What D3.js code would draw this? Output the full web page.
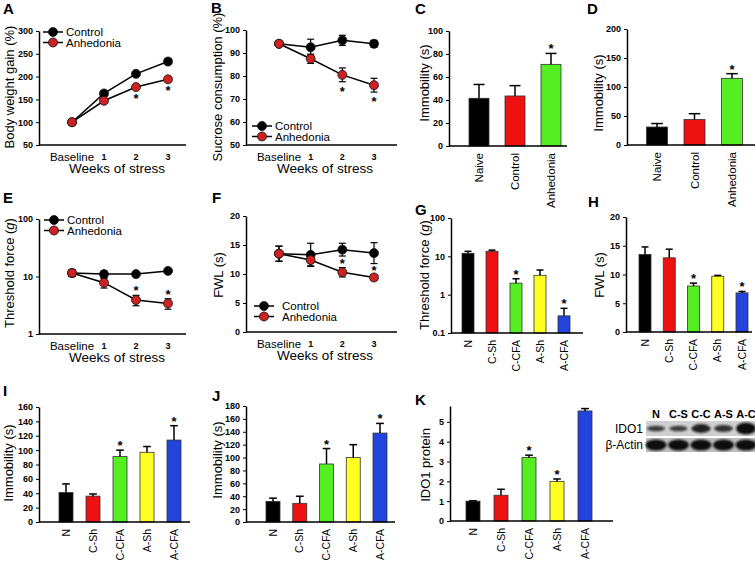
<!DOCTYPE html>
<html><head><meta charset="utf-8">
<script src="https://cdn.jsdelivr.net/npm/d3@7"></script>
<style>body{margin:0;background:#fff}svg{display:block}</style>
</head><body>
<script>
// ---------------- DATA ----------------
const weeks = ["Baseline", "1", "2", "3"];
const bwControl = [100, 163, 206, 233];
const bwControlErr = [3, 5, 4, 5];
const bwAnhedonia = [100, 147, 177, 194];
const bwAnhedoniaErr = [3, 4, 4, 4];
const bwStars = [2, 3];

const sucControl = [94, 92.5, 95.5, 94];
const sucControlErr = [0.5, 3.5, 2.2, 1.5];
const sucAnhedonia = [94, 87.5, 80.5, 76];
const sucAnhedoniaErr = [0.5, 2, 3, 3];
const sucStars = [2, 3];

const groups3 = ["Naive", "Control", "Anhedonia"];
const immC = [41.5, 43.5, 71];
const immCErr = [12, 9, 9.5];
const immCStars = [2];
const immD = [31, 44, 115];
const immDErr = [6, 10, 8];
const immDStars = [2];

const thrControl = [11.5, 11, 11, 12.5];
const thrControlErr = [1.5, 1.5, 1, 1];
const thrAnhedonia = [11.5, 7.8, 3.9, 3.4];
const thrAnhedoniaErr = [1.5, 1.5, 0.8, 0.7];
const thrStars = [2, 3];

const fwlControl = [13.5, 13.3, 14.2, 13.6];
const fwlControlErr = [1.3, 2, 1.1, 1.8];
const fwlAnhedonia = [13.5, 12.4, 10.3, 9.4];
const fwlAnhedoniaErr = [1.3, 1, 0.8, 0.5];
const fwlStars = [2, 3];

const groups5 = ["N", "C-Sh", "C-CFA", "A-Sh", "A-CFA"];
const thrG = [12, 13.5, 2, 3.2, 0.28];
const thrGErr = [1.5, 1, 0.6, 1.2, 0.16];
const thrGStars = [2, 4];
const fwlH = [13.5, 12.9, 8, 9.7, 6.8];
const fwlHErr = [1.3, 1.5, 0.5, 0.15, 0.25];
const fwlHStars = [2, 4];
const immI = [41, 36, 91, 97, 114];
const immIErr = [12, 3, 9, 8, 20];
const immIStars = [2, 4];
const immJ = [32, 29, 90, 100, 138];
const immJErr = [5, 11, 24, 20, 15];
const immJStars = [2, 4];
const ido1K = [1.0, 1.3, 3.2, 2.0, 5.55];
const ido1KErr = [0.02, 0.3, 0.12, 0.12, 0.12];
const ido1KStars = [2, 3];

const blotLanes = ["N", "C-S", "C-C", "A-S", "A-C"];
const blotIDO1 = [0.55, 0.55, 0.8, 0.65, 1.0];
const blotActin = [1, 1, 1, 1, 1];

const groupColors = ["#000000", "#ee1111", "#55ee22", "#ffff22", "#2244dd"];
const seriesColors = {control: "#000000", anhedonia: "#cc2222"};

// ---------------- DRAW ----------------
const FONT = "'Liberation Sans', Arial, Helvetica, sans-serif";
const svg = d3.select("body").append("svg").attr("width", 755).attr("height", 563)
  .attr("font-family", FONT);

const defs = svg.append("defs");
defs.append("filter").attr("id", "blur").append("feGaussianBlur").attr("stdDeviation", 1.3);

function panelLetter(t, x, y) {
  svg.append("text").attr("x", x).attr("y", y).attr("font-size", 15).attr("font-weight", "bold").text(t);
}

function yTitle(g, x, yc, parts) {
  const t = g.append("text").attr("transform", `translate(${x},${yc}) rotate(-90)`)
    .attr("text-anchor", "middle").attr("dy", "0.35em").attr("font-size", 13);
  parts.forEach(p => t.append("tspan").attr("font-style", p[1] ? "italic" : null).text(p[0]));
}

function drawYAxis(g, y, ax, ticks, fmt) {
  const a = g.append("g").attr("transform", `translate(${ax},0)`)
    .call(d3.axisLeft(y).tickValues(ticks).tickFormat(fmt || d3.format("")).tickSize(3).tickSizeOuter(0).tickPadding(3));
  a.attr("font-size", 9).attr("font-weight", "bold").attr("font-family", FONT);
  a.select(".domain").attr("stroke-width", 1.5);
  a.selectAll(".tick line").attr("stroke-width", 1);
  a.selectAll("text").attr("fill", "#000");
  return a;
}

function star(g, x, yc) {
  g.append("text").attr("x", x).attr("y", yc + 7).attr("text-anchor", "middle")
    .attr("font-size", 13).attr("font-weight", "bold").text("*");
}

function linePanel(o) {
  const g = svg.append("g");
  const x = d3.scalePoint().domain(weeks).range(o.xr);
  const y = o.y;
  drawYAxis(g, y, o.ax, o.ticks);
  const yb = y.range()[0];
  g.append("line").attr("x1", o.ax).attr("x2", o.axEnd).attr("y1", yb).attr("y2", yb)
    .attr("stroke", "#000").attr("stroke-width", 1.5);
  weeks.forEach(w => {
    const isB = w === "Baseline";
    g.append("text").attr("x", x(w)).attr("y", yb + (isB ? 16 : 15)).attr("text-anchor", "middle")
      .attr("font-size", isB ? 11.5 : 9).attr("font-weight", isB ? null : "bold").text(w);
  });
  g.append("text").attr("x", o.titleX).attr("y", yb + 28).attr("text-anchor", "middle")
    .attr("font-size", 13.5).text("Weeks of stress");
  yTitle(g, o.ytx, o.yty, o.ytitle);

  const series = [
    {v: o.control, e: o.controlErr, c: seriesColors.control},
    {v: o.anhed, e: o.anhedErr, c: seriesColors.anhedonia}
  ];
  const line = d3.line().x((d, i) => x(weeks[i])).y(d => y(d));
  series.forEach(s => {
    g.append("path").attr("d", line(s.v)).attr("fill", "none").attr("stroke", "#000").attr("stroke-width", 1.5);
  });
  series.forEach(s => {
    s.v.forEach((v, i) => {
      const cx = x(weeks[i]);
      const y1 = y(v + s.e[i]), y2 = y(Math.max(v - s.e[i], y.domain()[0]));
      g.append("line").attr("x1", cx).attr("x2", cx).attr("y1", y1).attr("y2", y2).attr("stroke", "#000").attr("stroke-width", 1.2);
      [y1, y2].forEach(yy => g.append("line").attr("x1", cx - 3.5).attr("x2", cx + 3.5).attr("y1", yy).attr("y2", yy).attr("stroke", "#000").attr("stroke-width", 1.2));
    });
    g.selectAll(null).data(s.v).enter().append("circle")
      .attr("cx", (d, i) => x(weeks[i])).attr("cy", d => y(d)).attr("r", 4.5)
      .attr("fill", s.c).attr("stroke", "#111").attr("stroke-width", 0.8);
  });
  o.stars.forEach(i => {
    if (o.starBelow) star(g, x(weeks[i]), y(o.anhed[i] - o.anhedErr[i]) + 7);
    else star(g, x(weeks[i]), y(o.anhed[i] + o.anhedErr[i]) - 7);
  });
  // legend
  [["Control", seriesColors.control], ["Anhedonia", seriesColors.anhedonia]].forEach((d, i) => {
    const ly = o.leg[1] + i * 10.5;
    g.append("line").attr("x1", o.leg[0]).attr("x2", o.leg[0] + 20).attr("y1", ly).attr("y2", ly).attr("stroke", "#000").attr("stroke-width", 1.5);
    g.append("circle").attr("cx", o.leg[0] + 10).attr("cy", ly).attr("r", 4.5).attr("fill", d[1]).attr("stroke", "#111").attr("stroke-width", 0.8);
    g.append("text").attr("x", o.leg[0] + 23 + (o.legGap || 0)).attr("y", ly).attr("dy", "0.35em").attr("font-size", 11.5).text(d[0]);
  });
}

function barPanel(o) {
  const g = svg.append("g");
  const x = d3.scalePoint().domain(o.groups).range(o.xr);
  const y = o.y;
  drawYAxis(g, y, o.ax, o.ticks, o.fmt);
  const yb = y.range()[0];
  const bw = o.bw;
  g.selectAll(null).data(o.vals).enter().append("rect")
    .attr("x", (d, i) => x(o.groups[i]) - bw / 2).attr("width", bw)
    .attr("y", d => y(d)).attr("height", d => yb - y(d))
    .attr("fill", (d, i) => groupColors[i]).attr("stroke", "#333").attr("stroke-width", 0.8);
  o.vals.forEach((v, i) => {
    const cx = x(o.groups[i]);
    const yt = y(v + o.errs[i]);
    const cw = Math.max(bw * 0.55, 7);
    g.append("line").attr("x1", cx).attr("x2", cx).attr("y1", y(v)).attr("y2", yt).attr("stroke", "#000").attr("stroke-width", 1.5);
    g.append("line").attr("x1", cx - cw / 2).attr("x2", cx + cw / 2).attr("y1", yt).attr("y2", yt).attr("stroke", "#000").attr("stroke-width", 1.5);
  });
  g.append("line").attr("x1", o.ax).attr("x2", o.axEnd).attr("y1", yb).attr("y2", yb)
    .attr("stroke", "#000").attr("stroke-width", 1.5);
  o.groups.forEach(gr => {
    g.append("text").attr("transform", `translate(${x(gr)},${yb + 7}) rotate(-90)`)
      .attr("text-anchor", "end").attr("dy", "0.35em").attr("font-size", o.labSize || 10.5).text(gr);
  });
  o.stars.forEach(i => star(g, x(o.groups[i]), y(o.vals[i] + o.errs[i]) - 7));
  yTitle(g, o.ytx, o.yty, o.ytitle);
}

// A
panelLetter("A", 3, 14);
linePanel({xr: [72, 168], ax: 39, axEnd: 186, y: d3.scaleLinear().domain([50, 300]).range([145, 31]),
  ticks: [50, 100, 150, 200, 250, 300], control: bwControl, controlErr: bwControlErr,
  anhed: bwAnhedonia, anhedErr: bwAnhedoniaErr, stars: bwStars, starBelow: true,
  titleX: 117, ytx: 9, yty: 87, ytitle: [["Body weight gain (%)"]], leg: [43, 32]});
// B
panelLetter("B", 211, 13);
linePanel({xr: [279, 374], ax: 246, axEnd: 397, y: d3.scaleLinear().domain([50, 100]).range([145, 30]),
  ticks: [50, 60, 70, 80, 90, 100], control: sucControl, controlErr: sucControlErr,
  anhed: sucAnhedonia, anhedErr: sucAnhedoniaErr, stars: sucStars, starBelow: true,
  titleX: 325, ytx: 217, yty: 87, ytitle: [["Sucrose consumption (%)"]], leg: [252, 126]});
// C
panelLetter("C", 415, 14);
barPanel({groups: groups3, xr: [479, 551], bw: 20, ax: 449, axEnd: 567,
  y: d3.scaleLinear().domain([0, 100]).range([146, 31]), ticks: [0, 20, 40, 60, 80, 100],
  vals: immC, errs: immCErr, stars: immCStars, labSize: 11.5, ytx: 424, yty: 83, ytitle: [["Immobility (s)"]]});
// D
panelLetter("D", 587, 14);
barPanel({groups: groups3, xr: [657, 732], bw: 21, ax: 627, axEnd: 755,
  y: d3.scaleLinear().domain([0, 200]).range([145, 29]), ticks: [0, 50, 100, 150, 200],
  vals: immD, errs: immDErr, stars: immDStars, labSize: 11.5, ytx: 598, yty: 93, ytitle: [["Immobility (s)"]]});
// E
panelLetter("E", 3, 203);
linePanel({xr: [72, 168], ax: 39, axEnd: 186, y: d3.scaleLog().domain([1, 100]).range([334, 219]),
  ticks: [1, 10, 100], control: thrControl, controlErr: thrControlErr,
  anhed: thrAnhedonia, anhedErr: thrAnhedoniaErr, stars: thrStars, starBelow: false,
  titleX: 117, ytx: 9, yty: 273, ytitle: [["Threshold force ("], ["g", true], [")"]], leg: [44, 220]});
// F
panelLetter("F", 212, 203);
linePanel({xr: [279, 374], ax: 246, axEnd: 397, y: d3.scaleLinear().domain([0, 20]).range([332, 216]),
  ticks: [0, 5, 10, 15, 20], control: fwlControl, controlErr: fwlControlErr,
  anhed: fwlAnhedonia, anhedErr: fwlAnhedoniaErr, stars: fwlStars, starBelow: false,
  titleX: 325, ytx: 218, yty: 275, ytitle: [["FWL (s)"]], leg: [254, 306], legGap: 5});
// G
panelLetter("G", 415, 215);
barPanel({groups: groups5, xr: [468, 564], bw: 12, ax: 451, axEnd: 583,
  y: d3.scaleLog().domain([0.1, 100]).range([333, 218]), ticks: [0.1, 1, 10, 100],
  vals: thrG, errs: thrGErr, stars: thrGStars, ytx: 424, yty: 275, ytitle: [["Threshold force ("], ["g", true], [")"]]});
// H
panelLetter("H", 588, 207);
barPanel({groups: groups5, xr: [645, 742], bw: 12, ax: 626, axEnd: 752,
  y: d3.scaleLinear().domain([0, 20]).range([332, 217]), ticks: [0, 5, 10, 15, 20],
  vals: fwlH, errs: fwlHErr, stars: fwlHStars, ytx: 599, yty: 275, ytitle: [["FWL (s)"]]});
// I
panelLetter("I", 3, 396);
barPanel({groups: groups5, xr: [66, 174], bw: 14, ax: 39, axEnd: 190,
  y: d3.scaleLinear().domain([0, 160]).range([522, 407]), ticks: d3.range(0, 161, 20),
  vals: immI, errs: immIErr, stars: immIStars, ytx: 8, yty: 463, ytitle: [["Immobility (s)"]]});
// J
panelLetter("J", 212, 401);
barPanel({groups: groups5, xr: [273, 380], bw: 14, ax: 246, axEnd: 395,
  y: d3.scaleLinear().domain([0, 180]).range([522, 406]), ticks: d3.range(0, 181, 20),
  vals: immJ, errs: immJErr, stars: immJStars, ytx: 217, yty: 460, ytitle: [["Immobility (s)"]]});
// K
panelLetter("K", 415, 405);
barPanel({groups: groups5, xr: [473, 585], bw: 14, ax: 450, axEnd: 613,
  y: d3.scaleLinear().domain([0, 5.8]).range([521, 406]), ticks: [0, 1, 2, 3, 4, 5],
  vals: ido1K, errs: ido1KErr, stars: ido1KStars, ytx: 425, yty: 465, ytitle: [["IDO1 protein"]]});

// Western blot inset
(function () {
  const g = svg.append("g");
  const x = d3.scalePoint().domain(blotLanes).range([656, 746]);
  g.append("rect").attr("x", 646).attr("y", 421).attr("width", 109).attr("height", 15).attr("fill", "#cfcfcf");
  g.append("rect").attr("x", 646).attr("y", 438).attr("width", 109).attr("height", 14).attr("fill", "#bdbdbd");
  const bands = g.append("g").attr("filter", "url(#blur)");
  blotIDO1.forEach((v, i) => {
    bands.append("ellipse").attr("cx", x(blotLanes[i])).attr("cy", 428.5)
      .attr("rx", 8 + 2 * v).attr("ry", 1.5 + 4.5 * v * v).attr("fill", "#111").attr("opacity", 0.5 + 0.5 * v);
  });
  blotActin.forEach((v, i) => {
    bands.append("ellipse").attr("cx", x(blotLanes[i])).attr("cy", 445)
      .attr("rx", 10.5).attr("ry", 5.5 * v).attr("fill", "#111");
  });
  blotLanes.forEach(l => g.append("text").attr("x", x(l)).attr("y", 418).attr("text-anchor", "middle")
    .attr("font-size", 11).attr("font-weight", "bold").text(l));
  g.append("text").attr("x", 643).attr("y", 429).attr("dy", "0.35em").attr("text-anchor", "end").attr("font-size", 12).text("IDO1");
  g.append("text").attr("x", 643).attr("y", 445).attr("dy", "0.35em").attr("text-anchor", "end").attr("font-size", 12).text("β-Actin");
})();
</script>
</body></html>
